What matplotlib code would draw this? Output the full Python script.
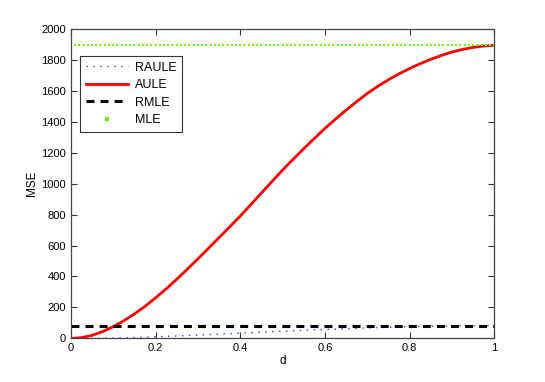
import matplotlib
matplotlib.use("Agg")
import matplotlib.pyplot as plt
import numpy as np

plt.rcParams['font.family'] = ['Liberation Sans', 'DejaVu Sans']

# values (d from 0 to 1 step 0.025)
d = [0.0, 0.025, 0.05, 0.075, 0.1, 0.125, 0.15, 0.175, 0.2, 0.225, 0.25,
     0.275, 0.3, 0.325, 0.35, 0.375, 0.4, 0.425, 0.45, 0.475, 0.5,
     0.525, 0.55, 0.575, 0.6, 0.625, 0.65, 0.675, 0.7, 0.725, 0.75,
     0.775, 0.8, 0.825, 0.85, 0.875, 0.9, 0.925, 0.95, 0.975, 1.0]
aule = [0, 5, 20, 44, 76, 114, 158, 207, 262, 320, 382,
        447, 514, 582, 651, 720, 790, 864, 939, 1013, 1087,
        1157, 1225, 1291, 1356, 1416, 1474, 1529, 1582, 1628, 1670,
        1708, 1743, 1774, 1802, 1827, 1849, 1866, 1879, 1888, 1893]
raule = [0, 0.2, 1, 2, 3, 4.5, 6, 8.5, 11, 13.5, 16,
         19, 22, 25, 28, 31, 34, 37, 40, 43.5, 47,
         50, 53, 55.5, 58, 60.5, 63, 65.5, 68, 70, 72,
         74, 76, 77.5, 79, 80, 81, 82, 82.5, 83, 83]
rmle_val = 83
mle_val = 1893

d_dense = np.linspace(0, 1, 101)

fig = plt.figure(figsize=(5.45, 3.82), dpi=100)
ax = fig.add_axes([0.130, 0.114, 0.777, 0.811])

ax.plot(d, raule, color='#2040ff', lw=1.0, linestyle=(0, (1, 4)), label='RAULE')
ax.plot(d, aule, color='red', lw=2.0, label='AULE')
ax.plot([0, 1], [rmle_val, rmle_val], color='black', lw=2.2, dashes=(2.6, 2.0), label='RMLE')
ax.plot(d_dense, [mle_val] * len(d_dense), color='#66ff00', linestyle='none',
        marker='s', markersize=1.6, markeredgewidth=0, label='MLE')

ax.set_xlim(0, 1)
ax.set_ylim(0, 2000)
ax.set_xticks([0, 0.2, 0.4, 0.6, 0.8, 1])
ax.set_xticklabels(['0', '0.2', '0.4', '0.6', '0.8', '1'])
ax.set_yticks(np.arange(0, 2001, 200))
ax.tick_params(direction='in', top=True, right=True, length=4, width=0.8,
               labelsize=8, colors='#333333', labelcolor='black')
for s in ax.spines.values():
    s.set_color('#444444')
    s.set_linewidth(0.9)

ax.set_xlabel('d', fontsize=8.5, labelpad=1)
ax.set_ylabel('MSE', fontsize=8.5, labelpad=2)

leg = ax.legend(loc='upper left', bbox_to_anchor=(0.022, 0.912), fontsize=9,
                frameon=True, fancybox=False, handlelength=3.4,
                borderaxespad=0, labelspacing=0.45, borderpad=0.45,
                handletextpad=0.5, markerscale=1.5)
leg.get_frame().set_edgecolor('black')
leg.get_frame().set_linewidth(0.8)

fig.savefig('out.png', dpi=100)
